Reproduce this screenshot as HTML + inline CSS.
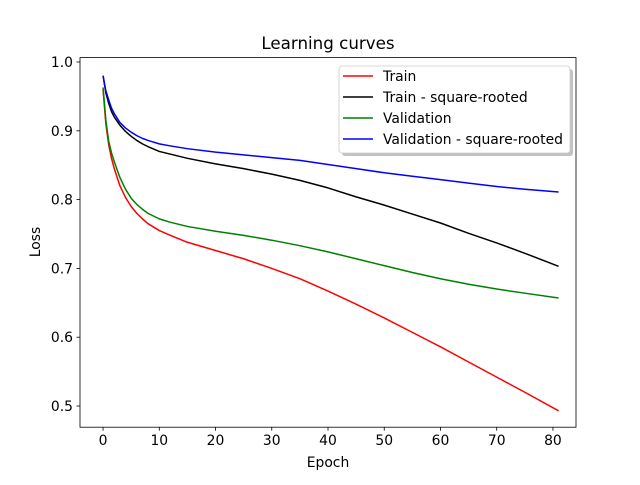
<!DOCTYPE html>
<html><head><meta charset="utf-8"><style>
body{margin:0;background:#fff}
svg{font-family:"DejaVu Sans","Liberation Sans",sans-serif}
</style></head><body>
<svg id="chart" width="640" height="480">
<rect width="640" height="480" fill="#fff"/>
<text x="328" y="49" font-size="16.7" text-anchor="middle">Learning curves</text>
<g id="plot"></g>
<rect x="80" y="57.6" width="496" height="369.6" fill="none" stroke="#000" stroke-width="0.8"/>
<text x="328" y="467" font-size="13.9" text-anchor="middle">Epoch</text>
<text transform="translate(40,242) rotate(-90)" font-size="13.9" text-anchor="middle">Loss</text>
<g>
<rect x="342" y="69" width="231" height="87" rx="3" fill="#999" opacity="0.6"/>
<rect x="339" y="66" width="231" height="87" rx="3" fill="#fff" stroke="#ccc" stroke-width="0.8"/>
<g id="legend-items"></g>
</g>
</svg>
<script>
const epochs=[0,0.5,1,1.5,2,3,4,5,6,7,8,10,12,15,20,25,30,35,40,45,50,55,60,65,70,75,81];
const trainVals=[0.96,0.91,0.88,0.86,0.845,0.82,0.803,0.79,0.78,0.772,0.765,0.755,0.748,0.738,0.726,0.714,0.70,0.685,0.667,0.648,0.628,0.607,0.586,0.564,0.542,0.52,0.493];
const trainSqVals=[0.98,0.955,0.94,0.928,0.92,0.908,0.899,0.892,0.886,0.881,0.877,0.87,0.866,0.86,0.852,0.845,0.837,0.828,0.817,0.804,0.792,0.779,0.766,0.751,0.737,0.722,0.703];
const valVals=[0.963,0.915,0.885,0.868,0.855,0.832,0.815,0.802,0.793,0.786,0.78,0.772,0.767,0.761,0.754,0.748,0.741,0.733,0.724,0.714,0.704,0.694,0.685,0.677,0.67,0.664,0.657];
const valSqVals=[0.98,0.958,0.945,0.933,0.925,0.912,0.904,0.898,0.893,0.889,0.886,0.881,0.878,0.874,0.869,0.865,0.861,0.857,0.851,0.845,0.839,0.834,0.829,0.824,0.819,0.815,0.811];
const seriesNames=["Train","Train - square-rooted","Validation","Validation - square-rooted"];
const seriesColors=["#ff0000","#000000","#008000","#0000ff"];
const xTicks=[0,10,20,30,40,50,60,70,80];
const yTicks=[0.5,0.6,0.7,0.8,0.9,1.0];
const NS="http://www.w3.org/2000/svg";
const X0=80,X1=576,Y0=427.2,Y1=57.6;
const xmin=-4.1,xmax=84.1,ymin=0.4692,ymax=1.0064;
const sx=v=>X0+(v-xmin)/(xmax-xmin)*(X1-X0);
const sy=v=>Y0-(v-ymin)/(ymax-ymin)*(Y0-Y1);
const plot=document.getElementById('plot');
function mk(t,a){const e=document.createElementNS(NS,t);for(const k in a)e.setAttribute(k,a[k]);return e;}
xTicks.forEach(t=>{
  const g=mk('g',{});
  
  
  g.appendChild(mk('line',{x1:sx(t),x2:sx(t),y1:Y0,y2:Y0+3.5,stroke:'#000','stroke-width':0.8}));
  const tx=mk('text',{x:sx(t),y:Y0+18,'font-size':13.9,'text-anchor':'middle'});tx.textContent=t;g.appendChild(tx);
  plot.appendChild(g);
});
yTicks.forEach(t=>{
  const g=mk('g',{});
  
  
  g.appendChild(mk('line',{x1:X0-3.5,x2:X0,y1:sy(t),y2:sy(t),stroke:'#000','stroke-width':0.8}));
  const tx=mk('text',{x:X0-7,y:sy(t)+5,'font-size':13.9,'text-anchor':'end'});tx.textContent=t.toFixed(1);g.appendChild(tx);
  plot.appendChild(g);
});
const data=[trainVals,trainSqVals,valVals,valSqVals];
const slugs=['train-line','train-sqrt-line','validation-line','validation-sqrt-line'];
data.forEach((vals,i)=>{
  const pts=epochs.map((e,j)=>sx(e).toFixed(2)+','+sy(vals[j]).toFixed(2)).join(' ');
  const pl=mk('polyline',{points:pts,fill:'none',stroke:seriesColors[i],'stroke-width':1.5,'stroke-linejoin':'round'});
  
  
  plot.appendChild(pl);
});
const li=document.getElementById('legend-items');
seriesNames.forEach((n,i)=>{
  const y=76+i*21;
  const g=mk('g',{});
  
  
  g.appendChild(mk('line',{x1:343,x2:373,y1:y,y2:y,stroke:seriesColors[i],'stroke-width':1.5}));
  const t=mk('text',{x:383,y:y+5,'font-size':13.9});t.textContent=n;g.appendChild(t);
  li.appendChild(g);
});
</script>
</body></html>
